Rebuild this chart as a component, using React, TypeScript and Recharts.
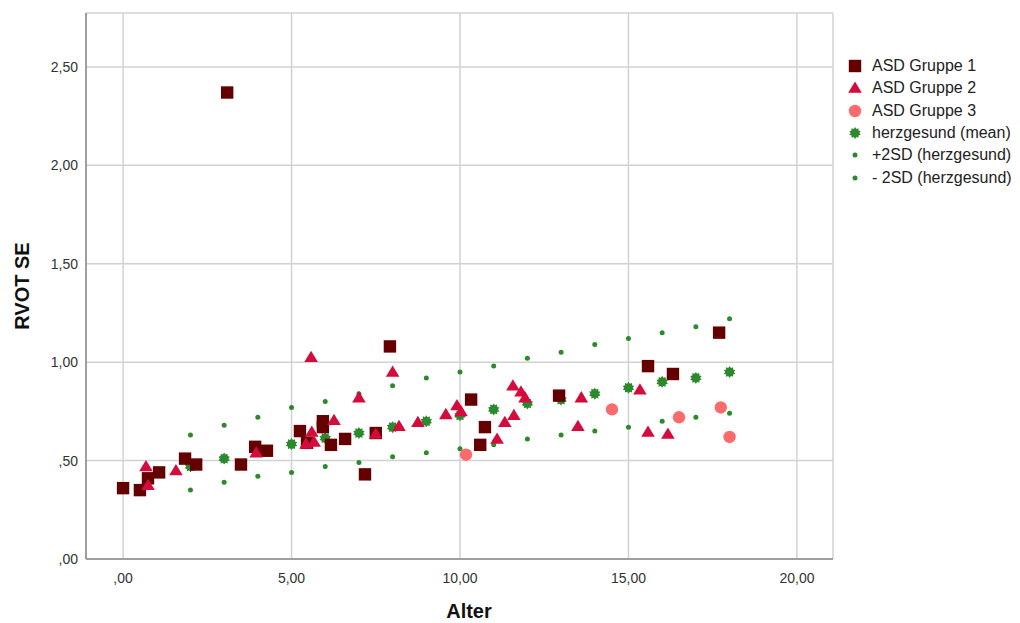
import { ScatterChart, Scatter, XAxis, YAxis, CartesianGrid, Legend, Label } from "recharts";

// Alter (years) / RVOT SE values
const group1Age = [0, 0.5, 0.74, 1.07, 1.84, 2.17, 3.09, 3.5, 3.92, 4.27, 5.25, 5.46, 5.93, 5.93, 6.17, 6.59, 7.18, 7.5, 7.92, 10.33, 10.6, 10.74, 12.94, 15.58, 16.32, 17.69];
const group1Rvot = [0.36, 0.35, 0.41, 0.44, 0.51, 0.48, 2.37, 0.48, 0.57, 0.55, 0.65, 0.59, 0.7, 0.67, 0.58, 0.61, 0.43, 0.64, 1.08, 0.81, 0.58, 0.67, 0.83, 0.98, 0.94, 1.15];

const group2Age = [0.68, 0.74, 1.57, 3.95, 5.58, 5.6, 5.43, 5.67, 6.26, 7.0, 8.0, 7.5, 8.19, 8.75, 9.58, 9.91, 10.03, 11.1, 11.33, 11.6, 11.57, 11.81, 11.93, 13.6, 13.5, 15.34, 15.58, 16.17];
const group2Rvot = [0.47, 0.375, 0.45, 0.54, 1.025, 0.645, 0.585, 0.595, 0.705, 0.82, 0.95, 0.635, 0.675, 0.695, 0.735, 0.78, 0.75, 0.61, 0.695, 0.73, 0.88, 0.85, 0.82, 0.82, 0.675, 0.86, 0.645, 0.635];

const group3Age = [10.18, 14.51, 16.5, 17.74, 18.0];
const group3Rvot = [0.53, 0.76, 0.72, 0.77, 0.62];

const healthyAge = [2, 3, 4, 5, 6, 7, 8, 9, 10, 11, 12, 13, 14, 15, 16, 17, 18];
const healthyMean = [0.47, 0.51, 0.55, 0.584, 0.614, 0.64, 0.67, 0.7, 0.73, 0.76, 0.79, 0.81, 0.84, 0.87, 0.9, 0.92, 0.95];
const healthyPlus2SD = [0.63, 0.68, 0.72, 0.77, 0.8, 0.84, 0.88, 0.92, 0.95, 0.98, 1.02, 1.05, 1.09, 1.12, 1.15, 1.18, 1.22];
const healthyMinus2SD = [0.35, 0.39, 0.42, 0.44, 0.47, 0.49, 0.52, 0.54, 0.56, 0.58, 0.61, 0.63, 0.65, 0.67, 0.7, 0.72, 0.74];

const xTicks = [0, 5, 10, 15, 20];
const yTicks = [0, 0.5, 1, 1.5, 2, 2.5];

const toPoints = (xs: number[], ys: number[]) => xs.map((x, i) => ({ x, y: ys[i] }));

// SPSS style: ",50" / "1,00"
const fmt = (v: number) => v.toFixed(2).replace(".", ",").replace(/^0,/, ",");

const SQUARE = "#650000";
const TRIANGLE = "#d50b3d";
const CIRCLE = "#fb6b6b";
const GREEN = "#2b8a2b";

const starPoints = (cx: number, cy: number, outer: number, inner: number, n: number) => {
  const pts: string[] = [];
  for (let i = 0; i < n * 2; i++) {
    const r = i % 2 === 0 ? outer : inner;
    const a = (Math.PI * i) / n - Math.PI / 2;
    pts.push(`${cx + r * Math.cos(a)},${cy + r * Math.sin(a)}`);
  }
  return pts.join(" ");
};

const Square = ({ cx, cy }: any) => <rect x={cx - 6.2} y={cy - 6.2} width={12.4} height={12.4} fill={SQUARE} />;
const Triangle = ({ cx, cy }: any) => (
  <polygon points={`${cx},${cy - 6.5} ${cx + 6.8},${cy + 4.8} ${cx - 6.8},${cy + 4.8}`} fill={TRIANGLE} />
);
const Dot = ({ cx, cy }: any) => <circle cx={cx} cy={cy} r={6.2} fill={CIRCLE} />;
const Star = ({ cx, cy }: any) => <polygon points={starPoints(cx, cy, 6, 4.3, 10)} fill={GREEN} />;
const SmallDot = ({ cx, cy }: any) => <circle cx={cx} cy={cy} r={2.5} fill={GREEN} />;

const legendItems = [
  { name: "ASD Gruppe 1", Shape: Square },
  { name: "ASD Gruppe 2", Shape: Triangle },
  { name: "ASD Gruppe 3", Shape: Dot },
  { name: "herzgesund (mean)", Shape: Star },
  { name: "+2SD (herzgesund)", Shape: SmallDot },
  { name: "- 2SD (herzgesund)", Shape: SmallDot },
];

const LegendContent = () => (
  <div style={{ fontSize: 16, color: "#222" }}>
    {legendItems.map(({ name, Shape }) => (
      <div key={name} style={{ display: "flex", alignItems: "center", height: 22.3 }}>
        <svg width={20} height={16} style={{ marginRight: 7 }}>
          <Shape cx={10} cy={8} />
        </svg>
        <span>{name}</span>
      </div>
    ))}
  </div>
);

export default function App() {
  return (
    <div style={{ position: "absolute", left: 0, top: 0, fontFamily: "'Liberation Sans', Arial, sans-serif" }}>
      <ScatterChart width={1020} height={623} margin={{ top: 13, right: 187, bottom: 34, left: 0 }}>
        <CartesianGrid stroke="#d2d2d2" strokeWidth={1.5} />
        <XAxis
          type="number"
          dataKey="x"
          domain={[-1.1, 21.07]}
          allowDataOverflow
          ticks={xTicks}
          tickFormatter={fmt}
          height={30}
          tickLine={false}
          tickMargin={8}
          axisLine={{ stroke: "#8a8a8a", strokeWidth: 1.5 }}
          tick={{ fill: "#333", fontSize: 14 }}
        >
          <Label
            content={() => (
              <text x={469} y={618} textAnchor="middle" fontSize={20} fontWeight="bold" fill="#111">
                Alter
              </text>
            )}
          />
        </XAxis>
        <YAxis
          type="number"
          dataKey="y"
          domain={[0, 2.774]}
          allowDataOverflow
          ticks={yTicks}
          tickFormatter={fmt}
          width={86}
          tickLine={false}
          axisLine={{ stroke: "#8a8a8a", strokeWidth: 1.5 }}
          tick={{ fill: "#333", fontSize: 14 }}
        >
          <Label
            content={() => (
              <text
                x={28.5}
                y={286}
                textAnchor="middle"
                fontSize={20}
                fontWeight="bold"
                fill="#111"
                transform="rotate(-90 28.5 286)"
              >
                RVOT SE
              </text>
            )}
          />
        </YAxis>
        <Legend
          layout="vertical"
          align="center"
          verticalAlign="middle"
          wrapperStyle={{ left: 845, top: 55, width: 175 }}
          content={() => <LegendContent />}
        />
        <Scatter name="+2SD (herzgesund)" data={toPoints(healthyAge, healthyPlus2SD)} shape={SmallDot} isAnimationActive={false} />
        <Scatter name="- 2SD (herzgesund)" data={toPoints(healthyAge, healthyMinus2SD)} shape={SmallDot} isAnimationActive={false} />
        <Scatter name="herzgesund (mean)" data={toPoints(healthyAge, healthyMean)} shape={Star} isAnimationActive={false} />
        <Scatter name="ASD Gruppe 3" data={toPoints(group3Age, group3Rvot)} shape={Dot} isAnimationActive={false} />
        <Scatter name="ASD Gruppe 1" data={toPoints(group1Age, group1Rvot)} shape={Square} isAnimationActive={false} />
        <Scatter name="ASD Gruppe 2" data={toPoints(group2Age, group2Rvot)} shape={Triangle} isAnimationActive={false} />
      </ScatterChart>
    </div>
  );
}
